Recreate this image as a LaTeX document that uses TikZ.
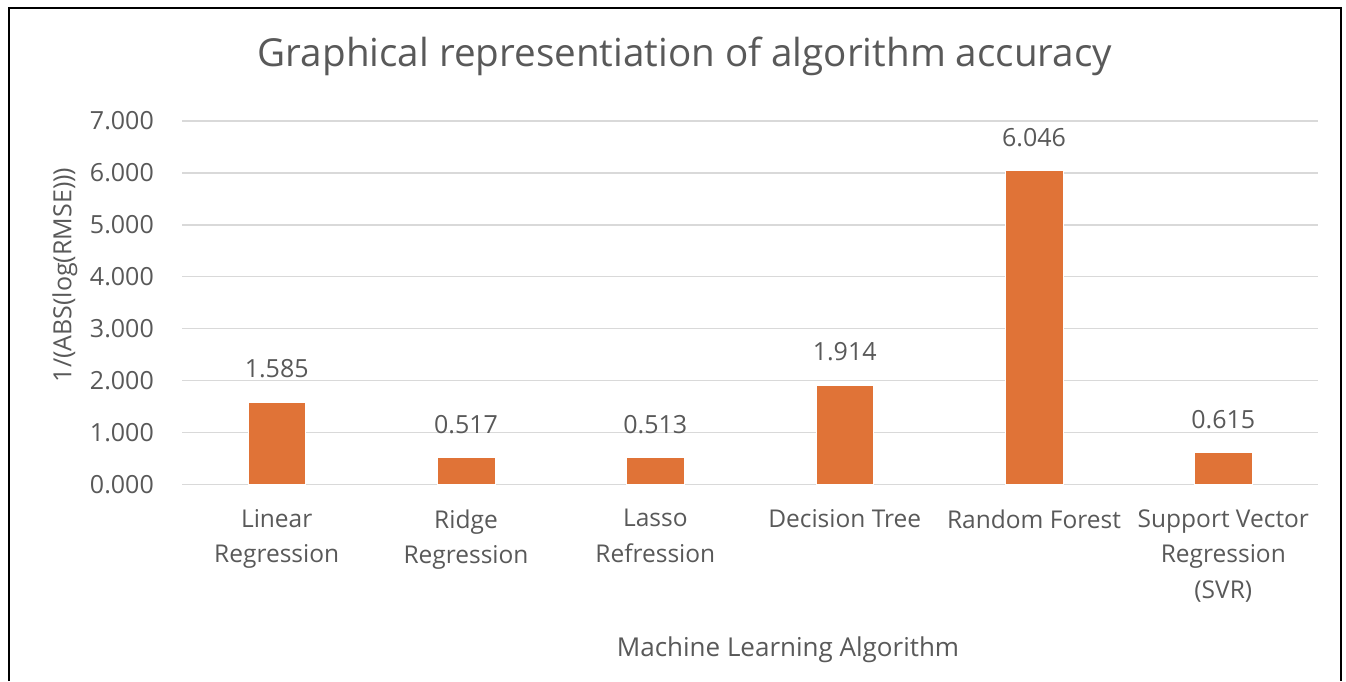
\documentclass[tikz,border=0pt]{standalone}
\usepackage{fontspec}
\setmainfont{Open Sans}
\usepackage{tikz}
\usetikzlibrary{positioning}
\definecolor{barc}{RGB}{224,115,55}
\definecolor{ink}{RGB}{89,89,89}
\definecolor{gridc}{RGB}{217,217,217}
\tikzset{
  colbar/.style={fill=barc,draw=white,line width=0.6pt,inner sep=0pt,
    outer sep=0pt,minimum width=57.6pt,anchor=south},
  val/.style={font=\fontsize{25}{30}\selectfont,text=ink,inner sep=0pt},
  ticklbl/.style={font=\fontsize{25}{30}\selectfont,text=ink,inner sep=0pt,
    anchor=east},
  cat/.style={font=\fontsize{24.5}{35.5}\selectfont,text=ink,align=center,
    inner sep=0pt},
  gridln/.style={draw=gridc,line width=1.5pt},
  ttl/.style={font=\fontsize{38.6}{46}\selectfont,text=ink},
  axttl/.style={font=\fontsize{26}{31}\selectfont,text=ink},
}

\begin{document}
\begin{tikzpicture}[x=1pt,y=1pt]
  \useasboundingbox[fill=white] (0,0) rectangle (1346,681);
  \draw[line width=2pt] (9,0) -- (9,673) -- (1341,673) -- (1341,0);
  \node[ttl] (title) at (685,625) {Graphical representiation of algorithm accuracy};
  \foreach \v in {0,...,7}{
    \draw[gridln] (182,196.7+\v*51.9) -- (1318,196.7+\v*51.9);
    \node[ticklbl] (t\v) at (154,196.7+\v*51.9) {\v.000};
  }
  \node[axttl,font=\fontsize{25}{30}\selectfont,rotate=90] (ylab) at (65,406)
    {1/(ABS(log(RMSE)))};
  \node[colbar,minimum height=1.585*51.9pt] (lin) at (276.7,196.7) {};
  \node[colbar,minimum height=0.517*51.9pt] (rid) at (466.0,196.7) {};
  \node[colbar,minimum height=0.513*51.9pt] (las) at (655.3,196.7) {};
  \node[colbar,minimum height=1.914*51.9pt] (dt) at (844.7,196.7) {};
  \node[colbar,minimum height=6.046*51.9pt] (rf) at (1034.0,196.7) {};
  \node[colbar,minimum height=0.615*51.9pt] (svr) at (1223.3,196.7) {};
  \node[val,above=33pt of lin.north,anchor=center] (vlin) {1.585};
  \node[val,above=33pt of rid.north,anchor=center] (vrid) {0.517};
  \node[val,above=33pt of las.north,anchor=center] (vlas) {0.513};
  \node[val,above=33pt of dt.north,anchor=center] (vdt) {1.914};
  \node[val,above=33pt of rf.north,anchor=center] (vrf) {6.046};
  \node[val,above=33pt of svr.north,anchor=center] (vsvr) {0.615};
  \node[cat,below=25pt of lin.south] (clin) {Linear\\Regression};
  \node[cat,below=25pt of rid.south] (crid) {Ridge\\Regression};
  \node[cat,below=25pt of las.south] (clas) {Lasso\\Refression};
  \node[cat,below=25pt of dt.south] (cdt) {Decision Tree};
  \node[cat,below=25pt of rf.south] (crf) {Random Forest};
  \node[cat,below=25pt of svr.south] (csvr) {Support Vector\\Regression\\(SVR)};
  \node[axttl] (xlab) at (788,31) {Machine Learning Algorithm};
\end{tikzpicture}
\end{document}
